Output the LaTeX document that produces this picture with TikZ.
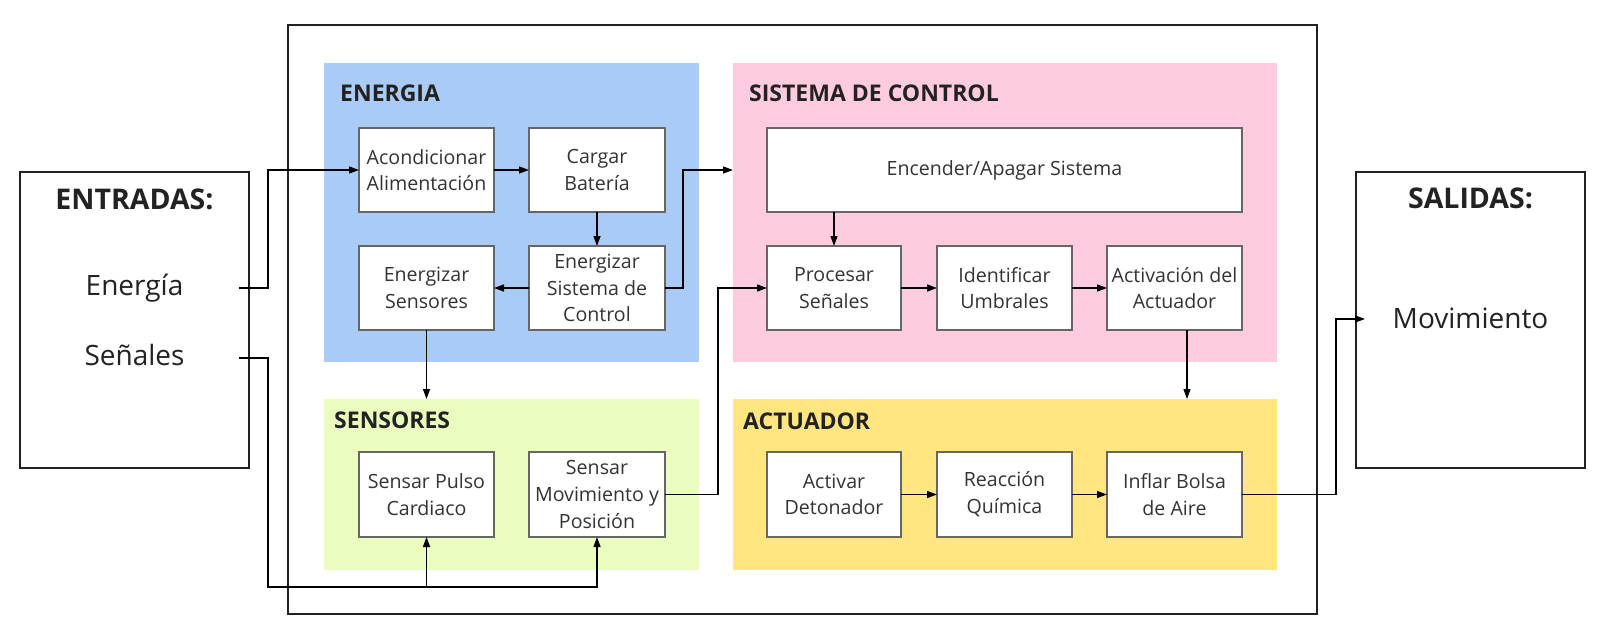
\documentclass[tikz,border=0pt]{standalone}
\usepackage{fontspec}
\setmainfont{Open Sans}
\usetikzlibrary{arrows.meta}
\definecolor{pblue}{RGB}{169,203,245}
\definecolor{ppink}{RGB}{255,204,223}
\definecolor{pgreen}{RGB}{234,253,190}
\definecolor{pyellow}{RGB}{255,230,128}
\definecolor{boxgray}{RGB}{102,102,102}
\definecolor{txt}{RGB}{51,51,51}
\definecolor{dark}{RGB}{34,34,34}
\begin{document}
\begin{tikzpicture}[x=1pt,y=-1pt,
  panel/.style={draw=none, inner sep=0pt, outer sep=0pt},
  box/.style={draw=boxgray, line width=1.5pt, fill=white, align=center, text=txt,
    font=\fontsize{19.6}{26.7}\selectfont, inner sep=0pt, outer sep=0pt,
    minimum width=135, minimum height=84},
  frame/.style={draw=dark, line width=2.2pt, inner sep=0pt, outer sep=0pt},
  title/.style={anchor=base, inner sep=0pt, text=dark, font=\bfseries\fontsize{28.5}{32}\selectfont},
  big/.style={anchor=base, inner sep=0pt, text=dark, font=\fontsize{28}{32}\selectfont},
  plabel/.style={anchor=base west, text=dark, font=\bfseries\fontsize{23}{26}\selectfont, inner sep=0pt},
  conn/.style={draw=black, line width=1.3pt, -{Triangle[length=10pt,width=7pt]}},
  line/.style={draw=black, line width=1.3pt}
]
\useasboundingbox (0,0) rectangle (1607,642);

% outer frame and input/output boxes
\node[frame, minimum width=1029, minimum height=589] (sistema) at (802.5,319.5) {};
\node[frame, minimum width=229, minimum height=296] (entradas) at (134.5,320) {};
\node[frame, minimum width=229, minimum height=296] (salidas) at (1470.5,320) {};
\node[title] (tEnt) at (134.5,209) {ENTRADAS:};
\node[title] (tSal) at (1470.5,208) {SALIDAS:};
\node[big] (energiaT) at (134.5,295.5) {Energía};
\node[big] (senalesT) at (134.5,365.5) {Señales};
\node[big] (movT) at (1470.5,328) {Movimiento};

% panels
\node[panel, fill=pblue, minimum width=375, minimum height=299] (energia) at (511.5,212.5) {};
\node[panel, fill=ppink, minimum width=544, minimum height=299] (control) at (1005,212.5) {};
\node[panel, fill=pgreen, minimum width=375, minimum height=171] (sensores) at (511.5,484.5) {};
\node[panel, fill=pyellow, minimum width=544, minimum height=171] (actuador) at (1005,484.5) {};
\node[plabel] (lEnergia) at (340,101) {ENERGIA};
\node[plabel] (lControl) at (749,101) {SISTEMA DE CONTROL};
\node[plabel] (lSensores) at (334,428) {SENSORES};
\node[plabel] (lActuador) at (743,429) {ACTUADOR};

% boxes
\node[box] (acond) at (426.5,170) {Acondicionar\\Alimentación};
\node[box, minimum width=136] (cargar) at (597,170) {Cargar\\Batería};
\node[box] (enSens) at (426.5,288) {Energizar\\Sensores};
\node[box, minimum width=136] (enSis) at (597,288) {Energizar\\Sistema de\\Control};
\node[box, minimum width=475] (encender) at (1004.5,170) {Encender/Apagar Sistema};
\node[box, minimum width=134] (procesar) at (834,288) {Procesar\\Señales};
\node[box] (identificar) at (1004.5,288) {Identificar\\Umbrales};
\node[box] (activacion) at (1174.5,288) {Activación del\\Actuador};
\node[box, minimum height=85] (pulso) at (426.5,494.5) {Sensar Pulso\\Cardiaco};
\node[box, minimum width=136, minimum height=85] (movim) at (597,494.5) {Sensar\\Movimiento y\\Posición};
\node[box, minimum width=134, minimum height=85] (activar) at (834,494.5) {Activar\\Detonador};
\node[box, minimum height=85] (reaccion) at (1004.5,494.5) {Reacción\\Química};
\node[box, minimum height=85] (inflar) at (1174.5,494.5) {Inflar Bolsa\\de Aire};

% free ends
\coordinate (eOut) at (239,288);
\coordinate (sOut) at (239,358);
\coordinate (busL) at (268,587);
\coordinate (movIn) at (1365,319);
\coordinate (actDown) at ([xshift=12.5pt]activacion.south);

% connectors
\draw[conn] (eOut) -- ++(29,0) |- (acond.west);
\draw[conn] (acond.east) -- (cargar.west);
\draw[conn] (cargar.south) -- (enSis.north);
\draw[conn] (enSis.west) -- (enSens.east);
\draw[conn] (enSis.east) -- ++(18,0) |- (acond.west -| control.west);
\draw[conn] (enSens.south) -- (enSens.south |- sensores.north);
\draw[conn] (procesar.north |- encender.south) -- (procesar.north);
\draw[conn] (procesar.east) -- (identificar.west);
\draw[conn] (identificar.east) -- (activacion.west);
\draw[conn] (actDown) -- (actDown |- actuador.north);
\draw[conn] (activar.east) -- (reaccion.west);
\draw[conn] (reaccion.east) -- (inflar.west);
\draw[conn] (inflar.east) -- ++(94,0) |- (movIn);
\draw[conn] (movim.east) -- ++(53,0) |- (procesar.west);
\draw[conn] (sOut) -| (busL) -| (movim.south);
\draw[conn] (pulso.south |- busL) -- (pulso.south);
\end{tikzpicture}
\end{document}
